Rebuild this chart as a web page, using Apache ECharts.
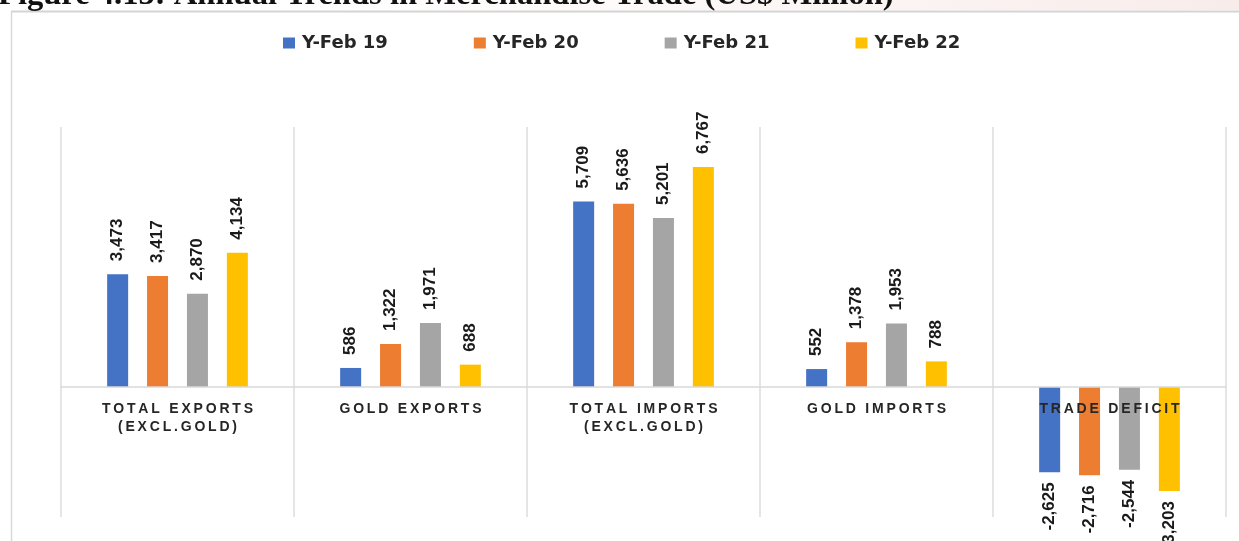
<!DOCTYPE html>
<html>
<head>
<meta charset="utf-8">
<script src="https://cdn.jsdelivr.net/npm/echarts@6/dist/echarts.min.js"></script>
<style>
  html, body { margin: 0; padding: 0; background: #ffffff; }
  #chart { width: 1239px; height: 541px; }
</style>
</head>
<body>
<div id="chart"></div>
<script>
// Merchandise trade, US$ million
const categories = ['TOTAL EXPORTS\n(EXCL.GOLD)', 'GOLD EXPORTS', 'TOTAL IMPORTS\n(EXCL.GOLD)', 'GOLD IMPORTS', 'TRADE DEFICIT'];
const seriesNames = ['Y-Feb 19', 'Y-Feb 20', 'Y-Feb 21', 'Y-Feb 22'];
const yFeb19 = [3473, 586, 5709, 552, -2625];
const yFeb20 = [3417, 1322, 5636, 1378, -2716];
const yFeb21 = [2870, 1971, 5201, 1953, -2544];
const yFeb22 = [4134, 688, 6767, 788, -3203];
const colors = ['#4472C4', '#ED7D31', '#A5A5A5', '#FFC000'];

// value range of the (hidden) value axis
const yMin = -4000;
const yMax = 8000;

const chart = echarts.init(document.getElementById('chart'), null, { renderer: 'canvas' });

const fmt = v => v.toLocaleString('en-US');
// spread letters of category names
const spread = s => s.split('\n').map(l => Array.from(l).join('\u2009')).join('\n');

const gridTop = 127;
const gridBottom = 24;
const gridHeight = 541 - gridTop - gridBottom;
// distance from the bottom of the grid up to the zero line
const zeroOffset = gridHeight * (0 - yMin) / (yMax - yMin);

const labelStyle = {
  show: true,
  rotate: 90,
  fontFamily: 'Liberation Sans',
  fontWeight: 'bold',
  fontSize: 17,
  color: '#1a1a1a',
  verticalAlign: 'middle',
  formatter: p => fmt(p.value)
};

function buildData(values) {
  return values.map(v => {
    if (v < 0) {
      return { value: v, label: { position: 'bottom', align: 'right', distance: 10 } };
    }
    return { value: v, label: { position: 'top', align: 'left', distance: 13 } };
  });
}

const allSeries = [yFeb19, yFeb20, yFeb21, yFeb22].map((vals, i) => ({
  name: seriesNames[i],
  type: 'bar',
  data: buildData(vals),
  barWidth: 21,
  barGap: '90%',
  itemStyle: { color: colors[i] },
  label: labelStyle,
  z: 2
}));

chart.setOption({
  backgroundColor: '#ffffff',
  animation: false,
  title: {
    text: 'Figure 4.13: Annual Trends in Merchandise Trade (US$ Million)',
    left: -2,
    top: -21,
    padding: 0,
    textStyle: {
      fontFamily: 'Liberation Serif',
      fontWeight: 'bold',
      fontSize: 32.6,
      color: '#111111'
    }
  },
  graphic: [
    {
      type: 'rect',
      shape: { x: 300, y: 0, width: 939, height: 10 },
      style: {
        fill: new echarts.graphic.LinearGradient(0, 0, 1, 0, [
          { offset: 0, color: 'rgba(250,240,238,0)' },
          { offset: 1, color: 'rgba(248,236,234,1)' }
        ])
      },
      z: -1
    },
    {
      type: 'line',
      shape: { x1: 11, y1: 11.5, x2: 1239, y2: 11.5 },
      style: { stroke: '#d4d4d4', lineWidth: 2 }
    },
    {
      type: 'line',
      shape: { x1: 11.5, y1: 11, x2: 11.5, y2: 541 },
      style: { stroke: '#d9d9d9', lineWidth: 1.5 }
    }
  ],
  legend: {
    top: 34,
    left: 283,
    padding: 0,
    itemWidth: 12,
    itemHeight: 11,
    itemGap: 86,
    icon: 'rect',
    textStyle: {
      fontFamily: 'DejaVu Sans',
      fontWeight: 'bold',
      fontSize: 18,
      color: '#262626',
      padding: [0, 0, 0, 2]
    },
    data: seriesNames
  },
  grid: {
    left: 61, right: 13, top: gridTop, bottom: gridBottom,
    containLabel: false,
    outerBoundsMode: 'none'
  },
  xAxis: {
    type: 'category',
    data: categories,
    position: 'bottom',
    offset: -zeroOffset,
    z: 5,
    axisLine: { onZero: false, lineStyle: { color: '#d9d9d9', width: 1.5 } },
    axisTick: { show: false },
    splitLine: { show: true, interval: 0, lineStyle: { color: '#dcdcdc', width: 1.5 } },
    axisLabel: {
      interval: 0,
      margin: 13,
      fontFamily: 'Liberation Sans',
      fontWeight: 'bold',
      fontSize: 14,
      lineHeight: 18,
      color: '#262626',
      formatter: v => spread(v)
    }
  },
  yAxis: {
    type: 'value',
    min: yMin,
    max: yMax,
    show: false
  },
  series: allSeries
});
</script>
</body>
</html>
